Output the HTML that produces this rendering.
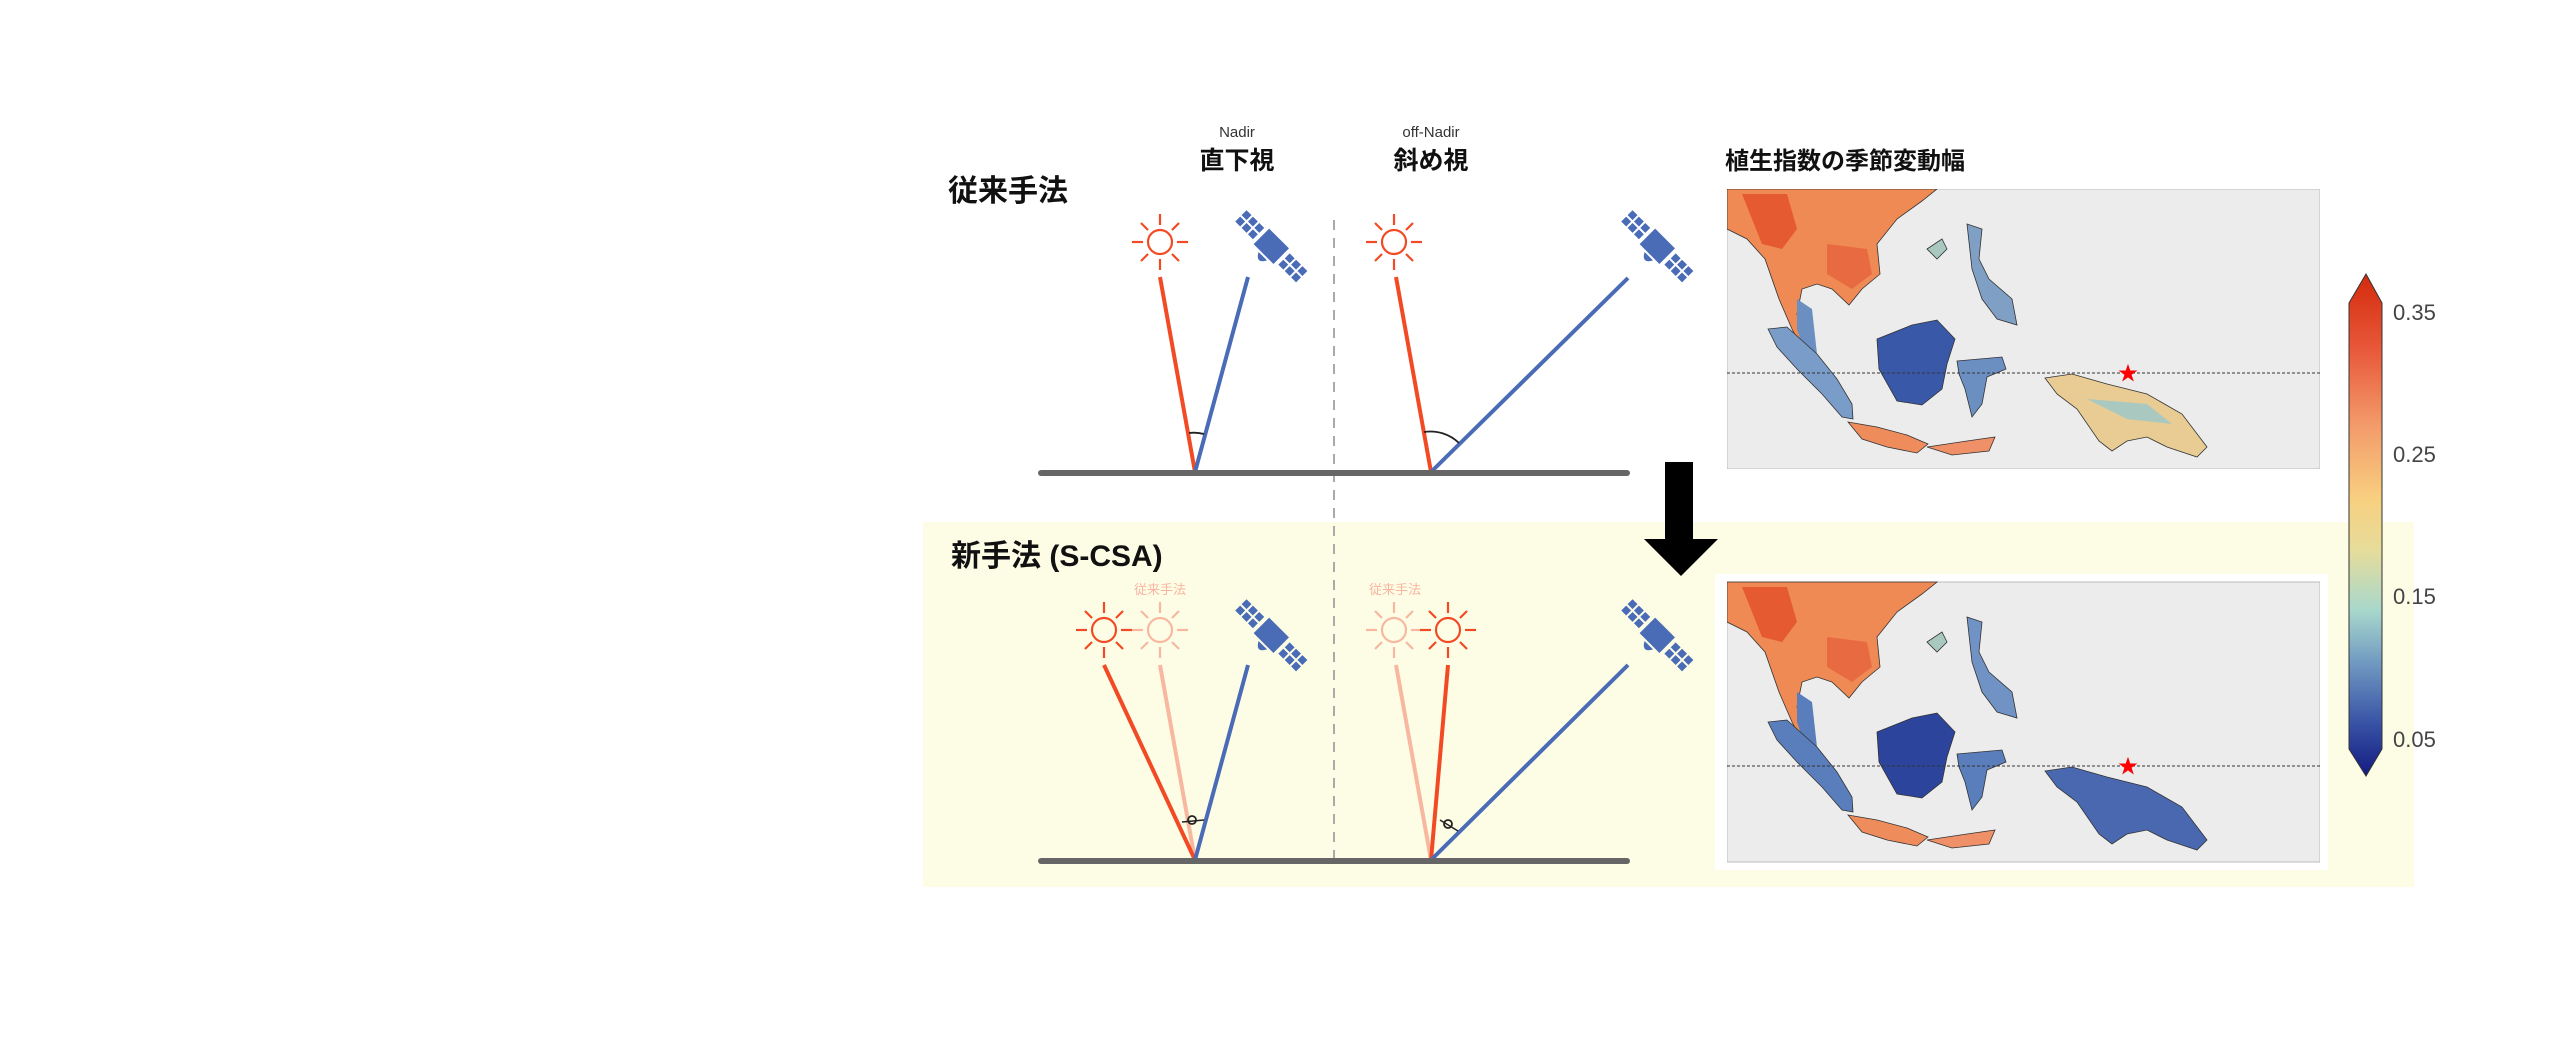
<!DOCTYPE html>
<html><head><meta charset="utf-8"><style>
html,body{margin:0;padding:0;background:#fff;}
body{width:2560px;height:1058px;overflow:hidden;position:relative;font-family:"Liberation Sans","Noto Sans CJK JP",sans-serif;}
</style></head><body>
<svg width="2560" height="1058" viewBox="0 0 2560 1058" xmlns="http://www.w3.org/2000/svg" style="position:absolute;left:0;top:0">
<defs>
  <linearGradient id="cb" x1="0" y1="0" x2="0" y2="1">
    <stop offset="0" stop-color="#d42a0c"/>
    <stop offset="0.15" stop-color="#e8583a"/>
    <stop offset="0.3" stop-color="#f39a6a"/>
    <stop offset="0.45" stop-color="#f8d080"/>
    <stop offset="0.55" stop-color="#e6dc9a"/>
    <stop offset="0.67" stop-color="#a8d8cc"/>
    <stop offset="0.78" stop-color="#6e96c0"/>
    <stop offset="0.9" stop-color="#3650a4"/>
    <stop offset="1" stop-color="#141a80"/>
  </linearGradient>
  <g id="sun">
    <circle cx="0" cy="0" r="12" fill="none" stroke-width="2.2"/>
    <g stroke-width="2.2">
      <line x1="0" y1="-17" x2="0" y2="-28"/><line x1="0" y1="17" x2="0" y2="28"/>
      <line x1="-17" y1="0" x2="-28" y2="0"/><line x1="17" y1="0" x2="28" y2="0"/>
      <line x1="12" y1="-12" x2="19" y2="-19"/><line x1="-12" y1="-12" x2="-19" y2="-19"/>
      <line x1="12" y1="12" x2="19" y2="19"/><line x1="-12" y1="12" x2="-19" y2="19"/>
    </g>
  </g>
  <g id="sat" fill="#4a6bb5">
    <g transform="rotate(-45)">
      <rect x="-8" y="-44" width="7" height="7"/><rect x="1" y="-44" width="7" height="7"/>
      <rect x="-8" y="-35" width="7" height="7"/><rect x="1" y="-35" width="7" height="7"/>
      <rect x="-8" y="-26" width="7" height="7"/><rect x="1" y="-26" width="7" height="7"/>
      <rect x="-11" y="-15" width="22" height="28"/>
      <rect x="-8" y="17" width="7" height="7"/><rect x="1" y="17" width="7" height="7"/>
      <rect x="-8" y="26" width="7" height="7"/><rect x="1" y="26" width="7" height="7"/>
      <rect x="-8" y="35" width="7" height="7"/><rect x="1" y="35" width="7" height="7"/>
      <path d="M-13,-6 Q-24,0 -13,6 Z"/>
    </g>
  </g>
</defs>

<!-- yellow background -->
<rect x="923" y="522" width="1491" height="365" fill="#fdfde6"/>

<!-- titles -->
<text x="948" y="201" font-size="30" font-weight="bold" fill="#111">従来手法</text>
<text x="951" y="566" font-size="30" font-weight="bold" fill="#111">新手法 (S-CSA)</text>
<text x="1237" y="137" font-size="15" text-anchor="middle" fill="#333">Nadir</text>
<text x="1237" y="169" font-size="25" font-weight="bold" text-anchor="middle" fill="#111">直下視</text>
<text x="1431" y="137" font-size="15" text-anchor="middle" fill="#333">off-Nadir</text>
<text x="1431" y="169" font-size="25" font-weight="bold" text-anchor="middle" fill="#111">斜め視</text>
<text x="1725" y="169" font-size="24" font-weight="bold" fill="#111">植生指数の季節変動幅</text>

<!-- dashed divider -->
<line x1="1334" y1="220" x2="1334" y2="860" stroke="#aaa" stroke-width="2" stroke-dasharray="10,8"/>

<!-- Row 1 -->
<use href="#sun" x="1160" y="242" stroke="#f24a25"/>
<use href="#sun" x="1394" y="242" stroke="#f24a25"/>
<use href="#sat" x="1272" y="247"/>
<use href="#sat" x="1658" y="247"/>
<line x1="1160" y1="277" x2="1195" y2="472" stroke="#f24a25" stroke-width="4"/>
<line x1="1248" y1="277" x2="1195" y2="472" stroke="#4a6bb5" stroke-width="4"/>
<line x1="1396" y1="277" x2="1431" y2="472" stroke="#f24a25" stroke-width="4"/>
<line x1="1628" y1="278" x2="1431" y2="472" stroke="#4a6bb5" stroke-width="4"/>
<path d="M1189,433 A40,40 0 0 1 1204,434" fill="none" stroke="#222" stroke-width="1.8"/>
<path d="M1424,432 A41,41 0 0 1 1459,443" fill="none" stroke="#222" stroke-width="1.8"/>
<line x1="1041" y1="473" x2="1627" y2="473" stroke="#666" stroke-width="6" stroke-linecap="round"/>

<!-- Arrow -->
<rect x="1665" y="462" width="28" height="78" fill="#000"/>
<polygon points="1644,539 1718,539 1681,576" fill="#000"/>

<!-- Row 2 -->
<text x="1160" y="594" font-size="13" text-anchor="middle" fill="#f8b5a0">従来手法</text>
<text x="1395" y="594" font-size="13" text-anchor="middle" fill="#f8b5a0">従来手法</text>
<use href="#sun" x="1160" y="630" stroke="#f8b8a0"/>
<use href="#sun" x="1104" y="630" stroke="#f24a25"/>
<use href="#sun" x="1394" y="630" stroke="#f8b8a0"/>
<use href="#sun" x="1448" y="630" stroke="#f24a25"/>
<use href="#sat" x="1272" y="636"/>
<use href="#sat" x="1658" y="636"/>
<line x1="1160" y1="665" x2="1195" y2="860" stroke="#f8b8a0" stroke-width="4"/>
<line x1="1104" y1="665" x2="1195" y2="860" stroke="#f24a25" stroke-width="4"/>
<line x1="1248" y1="665" x2="1195" y2="860" stroke="#4a6bb5" stroke-width="4"/>
<line x1="1396" y1="665" x2="1431" y2="860" stroke="#f8b8a0" stroke-width="4"/>
<line x1="1448" y1="665" x2="1431" y2="860" stroke="#f24a25" stroke-width="4"/>
<line x1="1628" y1="665" x2="1431" y2="860" stroke="#4a6bb5" stroke-width="4"/>
<circle cx="1192" cy="820" r="4" fill="none" stroke="#222" stroke-width="1.8"/>
<line x1="1182" y1="822" x2="1204" y2="820" stroke="#222" stroke-width="1.5"/>
<circle cx="1448" cy="824" r="4" fill="none" stroke="#222" stroke-width="1.8"/>
<line x1="1440" y1="820" x2="1458" y2="831" stroke="#222" stroke-width="1.5"/>
<line x1="1041" y1="861" x2="1627" y2="861" stroke="#666" stroke-width="6" stroke-linecap="round"/>

<!-- map 2 white frame -->
<rect x="1715" y="574" width="613" height="296" fill="#fff"/>

<!-- Colorbar -->
<polygon points="2349,303 2366,274 2382,303 2382,749 2366,776 2349,749" fill="url(#cb)" stroke="#333" stroke-width="1"/>
<g font-size="22" fill="#444">
<text x="2393" y="320">0.35</text>
<text x="2393" y="462">0.25</text>
<text x="2393" y="604">0.15</text>
<text x="2393" y="747">0.05</text>
</g>

<!-- Map 1 -->
<svg x="1727" y="189" width="593" height="280" viewBox="0 0 593 280">
  <rect width="593" height="280" fill="#ececec" stroke="#bbb"/>
  <g stroke="#333" stroke-width="0.8">
    <path d="M0,0 L210,0 L195,12 L170,30 L150,55 L153,85 L135,100 L122,116 L105,100 L90,95 L75,100 L70,125 L80,160 L92,175 L85,178 L65,140 L52,110 L38,70 L20,50 L0,40 Z" fill="#ef8a55"/>
    <path d="M15,5 L60,5 L70,40 L55,60 L35,55 Z" fill="#e55a30" stroke="none"/>
    <path d="M100,55 L140,60 L145,85 L125,100 L100,85 Z" fill="#e86a40" stroke="none"/>
    <path d="M70,110 L85,120 L90,165 L80,170 L70,140 Z" fill="#6a8fc0" stroke="none"/>
    <path d="M41,140 L60,138 L90,165 L110,190 L125,215 L126,230 L115,228 L95,205 L70,180 L50,158 Z" fill="#7a9cc8"/>
    <path d="M150,150 L185,136 L210,131 L228,150 L220,175 L215,200 L195,216 L170,212 L152,180 Z" fill="#3a58a8"/>
    <path d="M121,233 L150,238 L180,246 L201,255 L190,264 L160,258 L135,250 Z" fill="#ee8c5c"/>
    <path d="M200,258 L240,252 L268,248 L262,262 L225,266 Z" fill="#f09068"/>
    <path d="M230,172 L275,168 L279,180 L260,188 L255,215 L245,228 L238,200 L232,185 Z" fill="#6a8fc0"/>
    <path d="M240,35 L255,40 L252,70 L262,90 L285,110 L290,136 L270,130 L255,110 L245,80 Z" fill="#7fa0c4"/>
    <path d="M318,189 L345,185 L380,195 L420,205 L455,225 L480,258 L470,268 L440,258 L420,248 L400,252 L385,262 L372,252 L350,220 L330,205 Z" fill="#e8cc94"/>
    <path d="M360,210 L420,215 L445,235 L400,230 Z" fill="#a8c8c0" stroke="none"/>
    <path d="M200,60 L215,50 L220,60 L210,70 Z" fill="#a8c8c0"/>
  </g>
  <line x1="0" y1="184" x2="593" y2="184" stroke="#333" stroke-width="1" stroke-dasharray="3,2"/>
  <text x="401" y="191" font-size="20" fill="#f00" text-anchor="middle">★</text>
</svg>

<!-- Map 2 -->
<svg x="1727" y="581" width="593" height="282" viewBox="0 0 593 280">
  <rect width="593" height="280" fill="#ececec" stroke="#bbb"/>
  <g stroke="#333" stroke-width="0.8">
    <path d="M0,0 L210,0 L195,12 L170,30 L150,55 L153,85 L135,100 L122,116 L105,100 L90,95 L75,100 L70,125 L80,160 L92,175 L85,178 L65,140 L52,110 L38,70 L20,50 L0,40 Z" fill="#ef8a55"/>
    <path d="M15,5 L60,5 L70,40 L55,60 L35,55 Z" fill="#e55a30" stroke="none"/>
    <path d="M100,55 L140,60 L145,85 L125,100 L100,85 Z" fill="#e86a40" stroke="none"/>
    <path d="M70,110 L85,120 L90,165 L80,170 L70,140 Z" fill="#5a7ebc" stroke="none"/>
    <path d="M41,140 L60,138 L90,165 L110,190 L125,215 L126,230 L115,228 L95,205 L70,180 L50,158 Z" fill="#5a7ebc"/>
    <path d="M150,150 L185,136 L210,131 L228,150 L220,175 L215,200 L195,216 L170,212 L152,180 Z" fill="#2c449c"/>
    <path d="M121,233 L150,238 L180,246 L201,255 L190,264 L160,258 L135,250 Z" fill="#ee8c5c"/>
    <path d="M200,258 L240,252 L268,248 L262,262 L225,266 Z" fill="#f09068"/>
    <path d="M230,172 L275,168 L279,180 L260,188 L255,215 L245,228 L238,200 L232,185 Z" fill="#5a7ebc"/>
    <path d="M240,35 L255,40 L252,70 L262,90 L285,110 L290,136 L270,130 L255,110 L245,80 Z" fill="#7092c4"/>
    <path d="M318,189 L345,185 L380,195 L420,205 L455,225 L480,258 L470,268 L440,258 L420,248 L400,252 L385,262 L372,252 L350,220 L330,205 Z" fill="#4a68b0"/>
    <path d="M200,60 L215,50 L220,60 L210,70 Z" fill="#a8c8c0"/>
  </g>
  <line x1="0" y1="184" x2="593" y2="184" stroke="#333" stroke-width="1" stroke-dasharray="3,2"/>
  <text x="401" y="191" font-size="20" fill="#f00" text-anchor="middle">★</text>
</svg>
</svg>
</body></html>
